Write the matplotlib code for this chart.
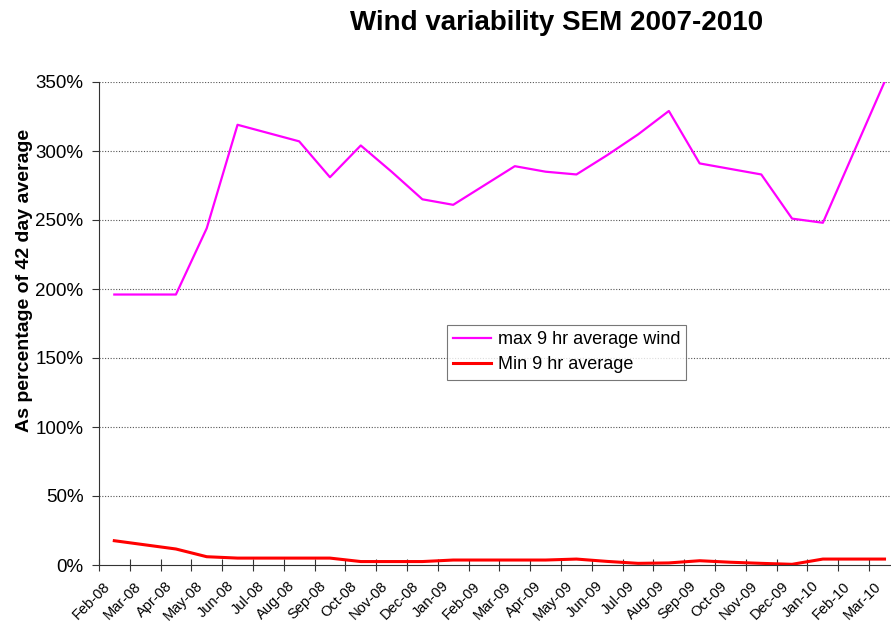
import numpy as np
import matplotlib.pyplot as plt
from matplotlib.ticker import FixedLocator, FuncFormatter

# 数据
months = ['Feb-08', 'Mar-08', 'Apr-08', 'May-08', 'Jun-08', 'Jul-08', 'Aug-08',
          'Sep-08', 'Oct-08', 'Nov-08', 'Dec-08', 'Jan-09', 'Feb-09', 'Mar-09',
          'Apr-09', 'May-09', 'Jun-09', 'Jul-09', 'Aug-09', 'Sep-09', 'Oct-09',
          'Nov-09', 'Dec-09', 'Jan-10', 'Feb-10', 'Mar-10']
max_9hr = [196, 196, 196, 244, 319, 313, 307, 281, 304, 285, 265, 261, 275,
           289, 285, 283, 297, 312, 329, 291, 287, 283, 251, 248, 299, 350]
min_9hr = [17.6, 14.6, 11.6, 6.0, 5.0, 5.0, 5.0, 5.0, 2.5, 2.5, 2.5, 3.6, 3.6,
           3.6, 3.6, 4.3, 2.6, 1.2, 1.5, 3.1, 2.0, 1.2, 0.5, 4.3, 4.3, 4.3]

plt.rcParams['font.family'] = ['Liberation Sans', 'DejaVu Sans']

fig = plt.figure(figsize=(8.91, 6.25), dpi=100)
ax = fig.add_axes([0.111, 0.096, 0.899, 0.7728])

x = np.arange(len(months))
ax.plot(x, max_9hr, color='#ff00ff', linewidth=1.6, label='max 9 hr average wind')
ax.plot(x, min_9hr, color='#ff0000', linewidth=2.2, label='Min 9 hr average')

# 坐标轴范围
ax.set_xlim(-0.5, len(months) - 0.5)
ax.set_ylim(0, 350)

# 网格线
for yv in range(50, 351, 50):
    ax.axhline(yv, color='#555555', linewidth=0.8, linestyle=(0, (1, 1.5)), zorder=0)

ax.spines['top'].set_visible(False)
ax.spines['right'].set_visible(False)
ax.spines['left'].set_color('#333333')
ax.spines['bottom'].set_color('#333333')

# y 轴
ax.set_yticks(range(0, 351, 50))
ax.yaxis.set_major_formatter(FuncFormatter(lambda v, p: f'{int(v)}%'))
ax.tick_params(axis='y', labelsize=13.5, direction='out', length=5, color='#333333', pad=6)

# x 轴：刻度在分类之间，标签在分类中心
ax.xaxis.set_major_locator(FixedLocator(np.arange(-0.5, len(months), 1.0)))
ax.xaxis.set_major_formatter(FuncFormatter(lambda v, p: ''))
ax.xaxis.set_minor_locator(FixedLocator(x - 0.36))
ax.set_xticklabels(months, minor=True, rotation=45, ha='right', rotation_mode='anchor')
ax.tick_params(axis='x', which='major', direction='inout', length=8, color='#333333')
ax.tick_params(axis='x', which='minor', length=0, labelsize=10.5, pad=10)

ax.set_ylabel('As percentage of 42 day average', fontsize=14, fontweight='bold')
ax.yaxis.set_label_coords(-0.082, 0.59)
fig.text(0.625, 0.963, 'Wind variability SEM 2007-2010', fontsize=20,
         fontweight='bold', ha='center', va='center')

leg = ax.legend(loc='upper left', bbox_to_anchor=(447 / 891, 1 - 325 / 625),
                bbox_transform=fig.transFigure, fontsize=13, frameon=True,
                fancybox=False, edgecolor='#555555', borderpad=0.35,
                borderaxespad=0, handlelength=2.1, handletextpad=0.35,
                labelspacing=0.45)
leg.get_frame().set_linewidth(0.8)

fig.savefig('out.png', dpi=100)
